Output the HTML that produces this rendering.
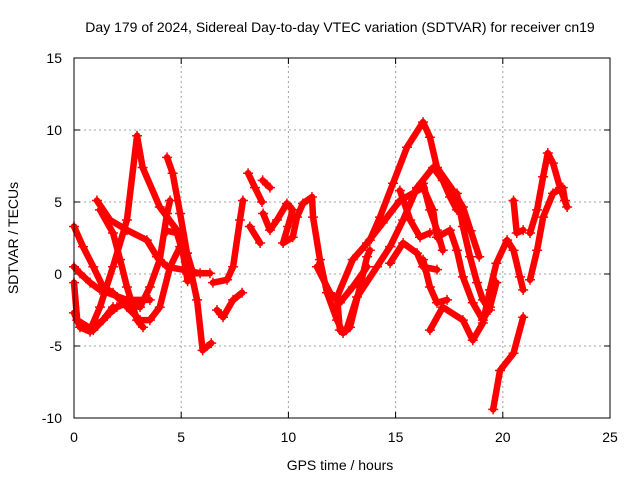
<!DOCTYPE html>
<html><head><meta charset="utf-8"><style>
html,body{margin:0;padding:0;background:#fff}
svg{display:block;font-family:"Liberation Sans",Arial,sans-serif}
</style></head><body>
<svg id="chart" width="640" height="480" viewBox="0 0 640 480">
<text x="340" y="32" font-size="14" text-anchor="middle">Day 179 of 2024, Sidereal Day-to-day VTEC variation (SDTVAR) for receiver cn19</text>
<text x="340" y="470" font-size="14" text-anchor="middle">GPS time / hours</text>
<text transform="translate(18,238) rotate(-90)" font-size="14" text-anchor="middle">SDTVAR / TECUs</text>
<g id="grid"></g>
<g id="ticks"></g>
<g id="series"></g>
<rect x="74" y="58" width="536" height="360" fill="none" stroke="#000" stroke-width="1"/>
</svg>
<script>
const xTicks=[0,5,10,15,20,25];
const yTicks=[-10,-5,0,5,10,15];
const trackA=[[0.75,-3.9],[1.21,-2.3],[1.82,0.5],[2.47,3.75],[2.94,9.6],[3.2,7.4],[4.0,4.65],[4.8,3.05],[5.27,1.45],[5.74,-1.8],[6.0,-5.3],[6.4,-4.8]];
const trackB=[[4.34,8.1],[4.6,7.0],[4.95,4.2],[5.27,1.45],[5.55,0.05],[6.34,0.05]];
const trackC=[[0,-0.6],[0.15,-3.2],[0.9,-3.9],[1.68,-2.7],[2.0,-2.3],[2.47,-2.0],[3.08,-2.3],[3.54,-0.9],[4.0,1.0],[4.34,4.2],[4.48,5.1]];
const trackC2=[[4.34,3.0],[4.8,2.85],[5.08,1.45],[5.3,-0.5]];
const trackD=[[0,3.3],[0.42,1.9],[0.9,0.5],[1.35,-0.9],[1.82,-1.3],[2.47,-2.3],[3.08,-3.2],[3.54,-3.2],[4.0,-2.3],[4.48,0.5],[4.95,1.9]];
const trackE=[[1.07,5.1],[1.68,3.75],[2.47,3.05],[3.4,2.35],[3.87,1.2],[4.34,0.5],[5.08,0.3],[5.88,0.05]];
const trackF=[[1.21,4.45],[1.82,2.85],[2.15,1.0],[2.47,-0.9],[2.94,-3.2],[3.22,-3.7]];
const trackG=[[0,-2.7],[0.28,-3.7],[0.75,-4.0],[1.35,-3.2],[1.82,-2.3]];
const trackH=[[0,0.5],[0.28,0.05],[0.75,-0.6],[1.21,-1.1],[2.47,-1.8],[3.54,-1.8]];
const trackI=[[6.48,-0.6],[7.14,-0.4],[7.42,0.5],[7.74,3.75],[7.88,5.1]];
const trackI2=[[6.67,-2.5],[6.95,-3.0],[7.42,-1.8],[7.84,-1.3]];
const trackJ=[[8.12,7.0],[8.44,6.0],[8.77,5.0]];
const trackJ1=[[8.8,6.5],[9.14,6.0]];
const trackJ2=[[8.2,3.3],[8.68,2.15]];
const trackJ3=[[8.82,4.2],[9.14,3.05],[9.47,3.75],[9.93,4.9],[10.2,4.45],[9.98,3.3],[9.75,2.15],[10.2,2.55],[10.4,3.95],[10.68,4.9],[11.1,5.35],[11.15,3.95],[11.47,1.0],[11.8,-1.3],[12.27,-3.2],[12.55,-4.1],[12.87,-3.7],[13.34,-0.9],[13.67,1.2],[13.8,1.65]];
const trackV2=[[11.33,0.5],[11.94,-1.3],[12.4,-2.0],[13.0,-0.9],[13.67,0.5]];
const trackK=[[12.4,-3.9],[12.27,-1.6],[13.0,1.0],[13.8,2.35],[14.27,3.95],[14.88,6.3],[15.53,8.8],[16.28,10.55],[16.6,9.5],[16.93,7.4],[17.68,5.8],[18.14,4.65],[18.5,3.0],[18.9,1.2]];
const trackL=[[12.7,-3.9],[13.2,-1.6],[14.13,0.5],[14.74,1.9],[15.35,3.75],[16.0,6.0],[16.75,7.4],[17.2,6.5],[17.54,5.35],[17.86,4.45]];
const trackL2=[[17.86,5.6],[18.14,3.3],[18.47,1.2],[18.8,-0.6],[19.07,-1.8],[19.4,-2.5]];
const trackM=[[13.67,2.15],[14.4,3.55],[15.2,5.1],[15.8,5.6],[16.28,6.0],[16.75,4.45],[16.93,2.55],[17.54,3.05],[17.86,1.65],[18.14,-0.2],[18.6,-2.0],[19.07,-3.2],[19.4,-2.3],[19.7,-0.6]];
const trackN=[[16.6,-3.9],[17.2,-2.3],[18.14,-3.2],[18.6,-4.6],[19.07,-3.4],[19.4,-1.1],[19.7,0.75],[20.2,2.35],[20.5,1.65],[20.8,-0.2],[20.95,-1.1]];
const trackO=[[14.74,0.75],[15.35,2.15],[16.0,1.45],[16.28,0.5],[16.93,0.3]];
const trackO2=[[16.28,1.0],[16.6,-0.9],[16.93,-2.0],[17.4,-1.8]];
const trackP=[[15.2,5.8],[15.68,3.75],[16.14,2.55],[16.6,2.85]];
const trackP2=[[16.28,6.3],[16.6,4.45],[16.93,3.05],[17.2,1.65]];
const trackQ=[[21.27,2.85],[21.6,4.45],[21.88,6.75],[22.1,8.4],[22.34,7.7],[22.67,6.0],[23.0,4.65]];
const trackR=[[21.27,-0.4],[21.6,1.65],[21.88,3.95],[22.34,5.6],[22.8,6.0],[22.9,5.1]];
const trackS=[[20.5,5.1],[20.65,2.85],[20.95,3.05]];
const trackT=[[19.55,-9.4],[19.87,-6.7],[20.5,-5.5],[20.95,-3.0]];
const tracks=[trackA,trackB,trackC,trackC2,trackD,trackE,trackF,trackG,trackH,trackI,trackI2,trackJ,trackJ1,trackJ2,trackJ3,trackV2,trackK,trackL,trackL2,trackM,trackN,trackO,trackO2,trackP,trackP2,trackQ,trackR,trackS,trackT];

const NS='http://www.w3.org/2000/svg';
const X0=74,X1=610,Y0=418,Y1=58;
function sx(v){return X0+(v-0)/(25-0)*(X1-X0);}
function sy(v){return Y0-(v+10)/(25)*(Y0-Y1);}
function mk(t,a,p){const e=document.createElementNS(NS,t);for(const k in a)e.setAttribute(k,a[k]);p.appendChild(e);return e;}
const grid=document.getElementById('grid'),ticks=document.getElementById('ticks'),ser=document.getElementById('series');
xTicks.forEach(v=>{
  const x=sx(v);
  if(v>0&&v<25){const g=mk('line',{x1:x,x2:x,y1:Y0,y2:Y1,stroke:'#a0a0a0','stroke-dasharray':'2,3'},grid);
  
  }
  const t1=mk('line',{x1:x,x2:x,y1:Y0,y2:Y0-6,stroke:'#000'},ticks);
  
  
  mk('line',{x1:x,x2:x,y1:Y1,y2:Y1+6,stroke:'#000'},ticks);
  const l=mk('text',{x:x,y:Y0+24,'font-size':14,'text-anchor':'middle'},ticks);l.textContent=v;
  
  
});
yTicks.forEach(v=>{
  const y=sy(v);
  if(v>-10&&v<15){const g=mk('line',{x1:X0,x2:X1,y1:y,y2:y,stroke:'#a0a0a0','stroke-dasharray':'2,3'},grid);
  
  }
  const t1=mk('line',{x1:X0,x2:X0+6,y1:y,y2:y,stroke:'#000'},ticks);
  
  
  mk('line',{x1:X1,x2:X1-6,y1:y,y2:y,stroke:'#000'},ticks);
  const l=mk('text',{x:X0-12,y:y+5,'font-size':14,'text-anchor':'end'},ticks);l.textContent=v;
  
  
});
tracks.forEach((tr,i)=>{
  const pts=tr.map(p=>sx(p[0])+','+sy(p[1])).join(' ');
  const pl=mk('polyline',{points:pts,fill:'none',stroke:'#ff0000','stroke-width':6.5,'stroke-linejoin':'round','stroke-linecap':'round'},ser);
  
  
  tr.forEach(p=>{
    const x=sx(p[0]),y=sy(p[1]);
    const m=mk('path',{d:`M${x-5},${y}h10M${x},${y-5}v10`,stroke:'#ff0000','stroke-width':1.5},ser);
    
    
  });
});
</script>
</body></html>
